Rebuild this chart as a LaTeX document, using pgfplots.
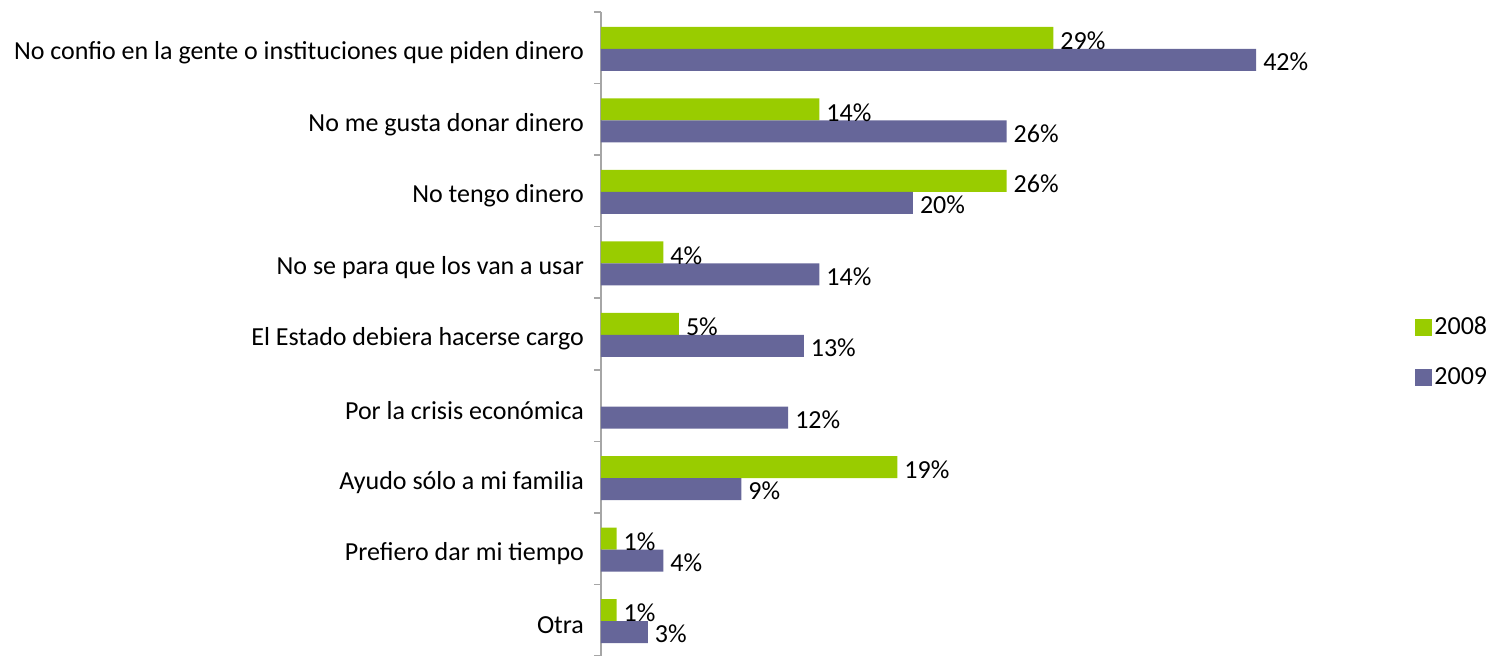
\documentclass[border=0pt]{standalone}
\usepackage{fontspec}
\setmainfont{Carlito}
\usepackage{pgfplots}
\pgfplotsset{compat=1.18}

\definecolor{cgreen}{HTML}{99CC00}
\definecolor{cpurple}{HTML}{666699}
\definecolor{caxis}{HTML}{A6A6A6}

\newcommand{\chartfont}{\fontsize{13}{15.5}\selectfont}

\begin{document}
\begin{tikzpicture}
\path[use as bounding box] (-300.5pt,0pt) rectangle (447pt,328pt);
\begin{axis}[
    at={(0,0)}, anchor=south west,
    scale only axis,
    width=390pt, height=322pt,
    xbar,
    bar width=11pt,
    xmin=0, xmax=50,
    ymin=-0.5, ymax=8.5,
    y dir=reverse,
    axis x line=none,
    axis y line=left,
    axis line style={draw=caxis, line width=0.8pt, -},
    ytick={0,...,8},
    yticklabels={No confio en la gente o instituciones que piden dinero,
                 No me gusta donar dinero,
                 No tengo dinero,
                 No se para que los van a usar,
                 El Estado debiera hacerse cargo,
                 Por la crisis económica,
                 Ayudo sólo a mi familia,
                 Prefiero dar mi tiempo,
                 Otra},
    major tick length=0pt,
    minor ytick={-0.5,0.5,...,8.5},
    minor tick length=3.5pt,
    tick align=outside,
    tick style={draw=caxis, line width=0.8pt},
    yticklabel style={font=\chartfont, xshift=-5pt, yshift=-2.5pt},
    /pgf/number format/assume math mode=true,
    nodes near coords={\pgfmathprintnumber{\pgfplotspointmeta}\%},
    nodes near coords style={font=\chartfont, text=black},
    legend style={at={(axis description cs:1,0.5)}, anchor=west,
        xshift=14pt, yshift=-9pt, draw=none, fill=none,
        font=\chartfont, row sep=13pt, nodes={inner sep=1pt}},
    legend cell align=left,
    legend image code/.code={\fill[#1] (0pt,-4.25pt) rectangle (8.5pt,4.25pt);},
]
\addplot[fill=cgreen, draw=none, bar shift=5pt,
    nodes near coords style={yshift=-1.5pt}] coordinates {
    (29,0) (14,1) (26,2) (4,3) (5,4) (19,6) (1,7) (1,8)};
\addplot[fill=cpurple, draw=none, bar shift=-6pt,
    nodes near coords style={yshift=-1pt}] coordinates {
    (42,0) (26,1) (20,2) (14,3) (13,4) (12,5) (9,6) (4,7) (3,8)};
\legend{2008,2009}
\end{axis}
\end{tikzpicture}
\end{document}
